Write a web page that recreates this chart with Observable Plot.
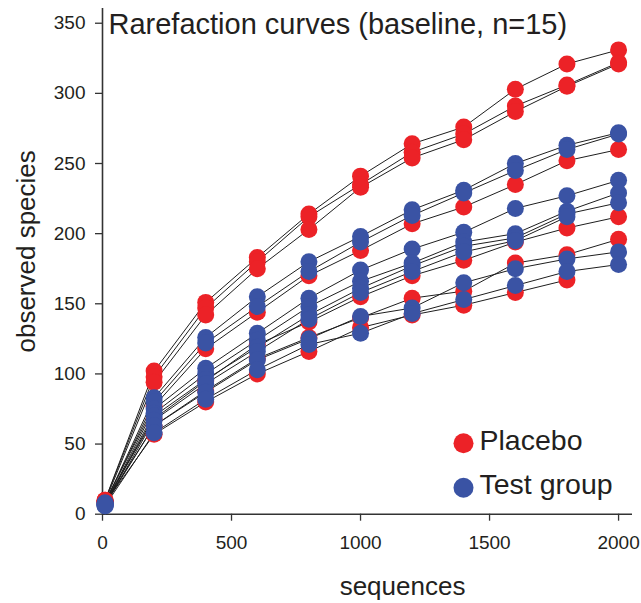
<!DOCTYPE html>
<html><head><meta charset="utf-8">
<script src="https://cdn.jsdelivr.net/npm/d3@7"></script>
<script src="https://cdn.jsdelivr.net/npm/@observablehq/plot@0.6"></script>
<style>html,body{margin:0;padding:0;background:#fff}</style>
</head><body><div id="chart"></div>
<script>
// ---- data ----
const sequences = [10, 200, 400, 600, 800, 1000, 1200, 1400, 1600, 1800, 2000];

const placeboCurves = [
  [10, 102, 151, 183, 214, 241, 264, 276, 303, 321, 331],
  [10, 98, 147, 180, 212, 235, 258, 271, 291, 306, 322],
  [9, 94, 142, 175, 203, 233, 254, 267, 287, 305, 321],
  [9, 77, 118, 144, 170, 188, 207, 219, 235, 252, 260],
  [9, 68, 95, 121, 137, 155, 170, 181, 194, 204, 212],
  [8, 63, 88, 111, 126, 140, 154, 159, 179, 185, 196],
  [8, 57, 80, 100, 116, 133, 142, 149, 158, 167, null]
];

const testCurves = [
  [8, 83, 126, 155, 180, 198, 217, 231, 250, 263, 272],
  [8, 80, 122, 148, 173, 194, 213, 229, 245, 260, 271],
  [7, 75, 104, 129, 154, 174, 189, 201, 218, 227, 238],
  [7, 72, 100, 124, 148, 166, 179, 194, 200, 216, 229],
  [7, 70, 96, 119, 142, 161, 177, 191, 197, 214, 222],
  [6, 67, 93, 116, 139, 158, 173, 187, 195, 212, null],
  [7, 63, 87, 110, 125, 141, 147, 165, 175, 182, 187],
  [6, 58, 82, 103, 121, 129, 143, 153, 163, 173, 178]
];

const groupNames = ["Placebo", "Test group"];
const groupColors = ["#ec2227", "#3a53a4"];
const xTicks = [0, 500, 1000, 1500, 2000];
const yTicks = [0, 50, 100, 150, 200, 250, 300, 350];
const titleText = ["Rarefaction curves (baseline, n=15)"];
const xLabel = ["sequences"];
const yLabel = ["observed species"];

// ---- build table ----
function toRows(curves, group, prefix) {
  const out = [];
  curves.forEach((vals, k) => {
    vals.forEach((v, i) => {
      if (v != null) out.push({id: prefix + k, group, x: sequences[i], y: v});
    });
  });
  return out;
}
const placeboRows = toRows(placeboCurves, groupNames[0], "P");
const testRows = toRows(testCurves, groupNames[1], "T");
const rows = placeboRows.concat(testRows);

const font = "'Liberation Sans', Arial, Helvetica, sans-serif";
const ink = "#231f20";

const chart = Plot.plot({
  width: 641,
  height: 603,
  marginLeft: 102,
  marginRight: 9,
  marginTop: 8,
  marginBottom: 89.3,
  style: {fontFamily: font, color: ink, background: "#fff"},
  x: {domain: [0, 2054]},
  y: {domain: [0, 360.5]},
  marks: [
    Plot.axisY(yTicks, {tickSize: 7, tickPadding: 10, fontSize: 19, label: null, tickFormat: d => String(d), stroke: "#333", strokeWidth: 1.3}),
    Plot.axisX(xTicks, {tickSize: 7, tickPadding: 14, fontSize: 19, label: null, tickFormat: d => String(d), stroke: "#333", strokeWidth: 1.3}),
    Plot.ruleX([0], {stroke: "#333", strokeWidth: 1.6}),
    Plot.ruleY([0], {stroke: "#333", strokeWidth: 1.6}),
    Plot.line(rows, {x: "x", y: "y", z: "id", stroke: "#1e1e1e", strokeWidth: 1}),
    Plot.dot(placeboRows, {x: "x", y: "y", r: 8.5, fill: groupColors[0]}),
    Plot.dot(testRows, {x: "x", y: "y", r: 8.5, fill: groupColors[1]}),
    Plot.text(titleText, {text: d => d, frameAnchor: "top-left", textAnchor: "start", lineAnchor: "bottom", dx: 6, dy: 25, fontSize: 29, fill: ink}),
    Plot.text(xLabel, {text: d => d, frameAnchor: "bottom", textAnchor: "middle", lineAnchor: "bottom", dx: 35, dy: 81, fontSize: 26, fill: ink}),
    Plot.text(yLabel, {text: d => d, frameAnchor: "left", textAnchor: "middle", rotate: -90, lineAnchor: "bottom", dx: -68, dy: -10, fontSize: 26, fill: ink}),
    Plot.dot([groupNames[0]], {frameAnchor: "top-left", dx: 361, dy: 434.7, r: 10, fill: groupColors[0]}),
    Plot.dot([groupNames[1]], {frameAnchor: "top-left", dx: 361, dy: 479.3, r: 10, fill: groupColors[1]}),
    Plot.text([groupNames[0]], {text: d => d, frameAnchor: "top-left", textAnchor: "start", lineAnchor: "bottom", dx: 377, dy: 441, fontSize: 28.5, fill: ink}),
    Plot.text([groupNames[1]], {text: d => d, frameAnchor: "top-left", textAnchor: "start", lineAnchor: "bottom", dx: 377, dy: 485, fontSize: 28.5, fill: ink})
  ]
});
document.getElementById("chart").appendChild(chart);
</script>
</body></html>
